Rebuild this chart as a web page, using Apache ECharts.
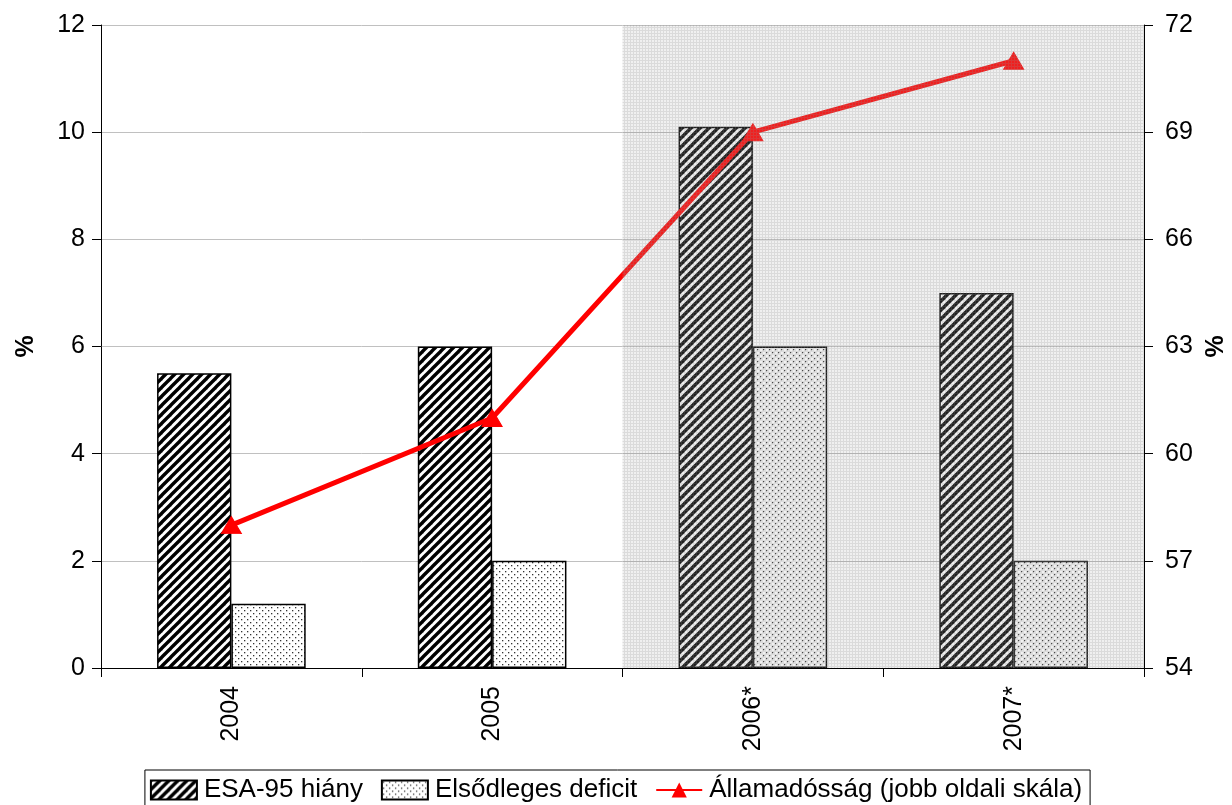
<!DOCTYPE html>
<html>
<head>
<meta charset="utf-8">
<script src="https://cdn.jsdelivr.net/npm/echarts@6/dist/echarts.min.js"></script>
<style>
html,body{margin:0;padding:0;background:#fff;}
#chart{width:1232px;height:805px;}
</style>
</head>
<body>
<div id="chart"></div>
<script>
// ---- data ----
const categories = ['2004', '2005', '2006*', '2007*'];
const esaDeficit = [5.5, 6.0, 10.1, 7.0];
const primaryDeficit = [1.2, 2.0, 6.0, 2.0];
const publicDebt = [58.0, 61.0, 69.0, 71.0];
const forecastCategories = ['2006*', '2007*'];
const leftTicks = { min: 0, max: 12, interval: 2 };
const rightTicks = { min: 54, max: 72, interval: 3 };
const seriesNames = ['ESA-95 hiány', 'Elsődleges deficit', 'Államadósság (jobb oldali skála)'];

// ---- patterns ----
function makeCanvas(w, h) { const c = document.createElement('canvas'); c.width = w; c.height = h; return c; }
function hatchPattern() {
  const s = 9, c = makeCanvas(s, s), g = c.getContext('2d');
  g.fillStyle = '#fff'; g.fillRect(0, 0, s, s);
  g.strokeStyle = '#000'; g.lineWidth = 3.4;
  [[0, s, s, 0], [-s, s, s, -s], [0, 2 * s, 2 * s, 0]].forEach(l => { g.beginPath(); g.moveTo(l[0], l[1]); g.lineTo(l[2], l[3]); g.stroke(); });
  return c;
}
function dotPattern() {
  const s = 6, c = makeCanvas(s, s), g = c.getContext('2d');
  g.fillStyle = '#fff'; g.fillRect(0, 0, s, s);
  g.fillStyle = '#333';
  g.fillRect(1, 1, 1.3, 1.3);
  g.fillRect(4, 4, 1.3, 1.3);
  return c;
}
function gridPattern() {
  const s = 3, c = makeCanvas(s, s), g = c.getContext('2d');
  g.fillStyle = 'rgba(170,170,170,0.18)'; g.fillRect(0, 0, s, s);
  g.fillStyle = 'rgba(140,140,140,0.22)';
  g.fillRect(0, 0, s, 1); g.fillRect(0, 1, 1, s - 1);
  return c;
}
const hatch = { image: hatchPattern(), repeat: 'repeat' };
const dots = { image: dotPattern(), repeat: 'repeat' };
const shade = { image: gridPattern(), repeat: 'repeat' };

const font = 'Liberation Sans';
const shadeStart = categories.indexOf(forecastCategories[0]);
const shadeEnd = categories.indexOf(forecastCategories[forecastCategories.length - 1]) + 1;

const chart = echarts.init(document.getElementById('chart'), null, { renderer: 'canvas' });
chart.setOption({
  animation: false,
  backgroundColor: '#fff',
  textStyle: { fontFamily: font, color: '#000' },
  grid: { left: 101, right: 88, top: 25, bottom: 137, containLabel: false, outerBoundsMode: 'none' },
  legend: {
    data: [
      { name: seriesNames[0], icon: 'rect' },
      { name: seriesNames[1], icon: 'rect' },
      { name: seriesNames[2] }
    ],
    top: 770,
    left: 'center',
    borderColor: '#000',
    borderWidth: 1,
    padding: [7, 8, 12, 5],
    itemGap: 18,
    itemWidth: 46,
    itemHeight: 19,
    textStyle: { fontFamily: font, fontSize: 26, color: '#000', padding: [0, 0, 0, 2] }
  },
  xAxis: [{
    type: 'category',
    data: categories,
    axisLine: { lineStyle: { color: '#000', width: 1 } },
    axisTick: { show: true, length: 9, inside: false, lineStyle: { color: '#000' } },
    axisLabel: { rotate: 90, fontSize: 25, fontFamily: font, color: '#000', margin: 18 },
    splitLine: { show: false }
  }, {
    type: 'value', min: 0, max: categories.length, show: false
  }],
  yAxis: [{
    type: 'value',
    min: leftTicks.min, max: leftTicks.max, interval: leftTicks.interval,
    name: '%', nameLocation: 'middle', nameGap: 62, nameRotate: 90,
    nameTextStyle: { fontSize: 25, fontWeight: 'bold', fontFamily: font, color: '#000' },
    axisLine: { show: true, lineStyle: { color: '#000' } },
    axisTick: { show: true, length: 9, lineStyle: { color: '#000' } },
    axisLabel: { fontSize: 25, fontFamily: font, color: '#000', margin: 16 },
    splitLine: { show: true, lineStyle: { color: '#c0c0c0', width: 1 } }
  }, {
    type: 'value',
    position: 'right',
    min: rightTicks.min, max: rightTicks.max, interval: rightTicks.interval,
    name: '%', nameLocation: 'middle', nameGap: 58, nameRotate: 90,
    nameTextStyle: { fontSize: 25, fontWeight: 'bold', fontFamily: font, color: '#000' },
    axisLine: { show: true, lineStyle: { color: '#000' } },
    axisTick: { show: true, length: 9, lineStyle: { color: '#000' } },
    axisLabel: { fontSize: 25, fontFamily: font, color: '#000', margin: 21 },
    splitLine: { show: false }
  }],
  series: [{
    name: seriesNames[0],
    type: 'bar',
    data: esaDeficit,
    barGap: '0%',
    barCategoryGap: '43%',
    itemStyle: { color: hatch, borderColor: '#000', borderWidth: 1.5 },
    z: 2
  }, {
    name: seriesNames[1],
    type: 'bar',
    data: primaryDeficit,
    itemStyle: { color: dots, borderColor: '#000', borderWidth: 1.5 },
    z: 2
  }, {
    name: seriesNames[2],
    type: 'line',
    yAxisIndex: 1,
    data: publicDebt,
    symbol: 'triangle',
    symbolSize: [20, 17],
    lineStyle: { color: '#ff0000', width: 5 },
    itemStyle: { color: '#ff0000', borderColor: '#ff0000' },
    z: 3
  }, {
    name: 'forecast',
    type: 'line',
    xAxisIndex: 1,
    yAxisIndex: 0,
    data: [],
    silent: true,
    z: 10,
    markArea: {
      silent: true,
      z: 10,
      itemStyle: { color: shade },
      data: [[{ xAxis: shadeStart, yAxis: leftTicks.min }, { xAxis: shadeEnd, yAxis: leftTicks.max }]]
    }
  }]
});
</script>
</body>
</html>
